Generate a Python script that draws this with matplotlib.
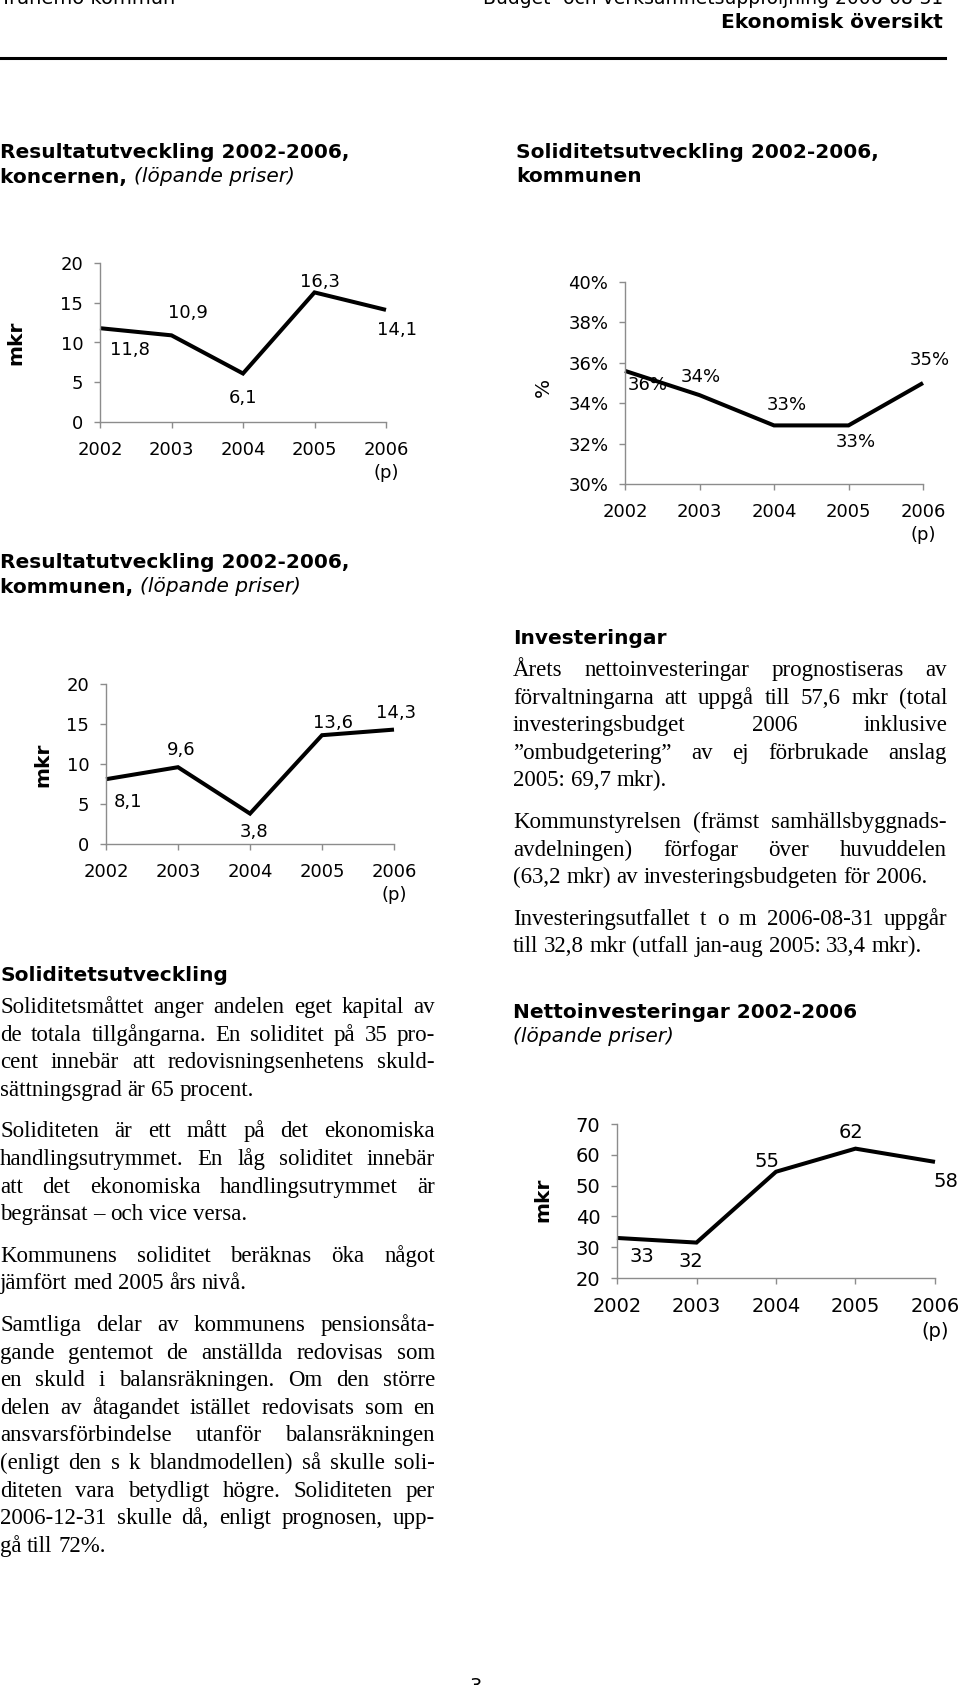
import numpy as np
import matplotlib.pyplot as plt

# data
years = ["2002", "2003", "2004", "2005", "2006\n(p)"]

koncern_mkr = [11.8, 10.9, 6.1, 16.3, 14.1]
koncern_labels = ["11,8", "10,9", "6,1", "16,3", "14,1"]

soliditet_pct = [35.6, 34.4, 32.9, 32.9, 35.0]
soliditet_labels = ["36%", "34%", "33%", "33%", "35%"]

kommun_mkr = [8.1, 9.6, 3.8, 13.6, 14.3]
kommun_labels = ["8,1", "9,6", "3,8", "13,6", "14,3"]

netto_mkr = [33, 31.5, 54.5, 62, 57.7]
netto_labels = ["33", "32", "55", "62", "58"]

mkr_ticks = [0, 5, 10, 15, 20]
pct_ticks = [30, 32, 34, 36, 38, 40]
netto_ticks = [20, 30, 40, 50, 60, 70]

# body text, line by line as on the page
soliditet_text = [
    ["Soliditetsmåttet anger andelen eget kapital av",
     "de totala tillgångarna. En soliditet på 35 pro-",
     "cent innebär att redovisningsenhetens skuld-",
     "sättningsgrad är 65 procent."],
    ["Soliditeten är ett mått på det ekonomiska",
     "handlingsutrymmet. En låg soliditet innebär",
     "att det ekonomiska handlingsutrymmet är",
     "begränsat – och vice versa."],
    ["Kommunens soliditet beräknas öka något",
     "jämfört med 2005 års nivå."],
    ["Samtliga delar av kommunens pensionsåta-",
     "gande gentemot de anställda redovisas som",
     "en skuld i balansräkningen. Om den större",
     "delen av åtagandet istället redovisats som en",
     "ansvarsförbindelse utanför balansräkningen",
     "(enligt den s k blandmodellen) så skulle soli-",
     "diteten vara betydligt högre. Soliditeten per",
     "2006-12-31 skulle då, enligt prognosen, upp-",
     "gå till 72%."],
]
invest_text = [
    ["Årets nettoinvesteringar prognostiseras av",
     "förvaltningarna att uppgå till 57,6 mkr (total",
     "investeringsbudget 2006 inklusive",
     "”ombudgetering” av ej förbrukade anslag",
     "2005: 69,7 mkr)."],
    ["Kommunstyrelsen (främst samhällsbyggnads-",
     "avdelningen) förfogar över huvuddelen",
     "(63,2 mkr) av investeringsbudgeten för 2006."],
    ["Investeringsutfallet t o m 2006-08-31 uppgår",
     "till 32,8 mkr (utfall jan-aug 2005: 33,4 mkr)."],
]

W, H = 960, 1685
SANS = "DejaVu Sans"
SERIF = "Liberation Serif"
BODY = 16.5
HEAD = 14.5

fig = plt.figure(figsize=(W / 100, H / 100), dpi=100)
renderer = fig.canvas.get_renderer()


def fx(x):
    return x / W


def fy(y):
    return 1 - y / H


def put(x, y, s, **kw):
    kw.setdefault("family", SANS)
    return fig.text(fx(x), fy(y), s, **kw)


def width(t):
    return t.get_window_extent(renderer).width


def two_part(x, y, bold, italic, size=HEAD):
    t = put(x, y, bold, fontsize=size, fontweight="bold", va="center")
    if italic:
        put(x + width(t), y, italic, fontsize=size, style="italic", va="center")


def paragraphs(paras, x0, x1, y0, step=27.6, gap=14):
    space = 0.25 * BODY * 100 / 72
    y = y0
    for para in paras:
        for i, line in enumerate(para):
            last = i == len(para) - 1
            words = line.split(" ")
            objs = [put(0, y, w, family=SERIF, fontsize=BODY, va="baseline") for w in words]
            ws = [width(o) for o in objs]
            sp = space
            if not last and len(words) > 1:
                sp = max((x1 - x0 - sum(ws)) / (len(words) - 1), 0.6 * space)
            x = x0
            for o, w in zip(objs, ws):
                o.set_x(fx(x))
                x += w + sp
            y += step
        y += gap


def line_chart(box, values, labels, offsets, ticks, ticklabels, fs):
    left, top, right, bottom = box
    ax = fig.add_axes([fx(left), fy(bottom), (right - left) / W, (bottom - top) / H])
    ax.patch.set_alpha(0)
    x = np.arange(len(years))
    ax.plot(x, values, color="black", lw=2.9, clip_on=False,
            solid_joinstyle="miter", solid_capstyle="butt")
    ax.set_xlim(0, len(years) - 1)
    ax.set_ylim(ticks[0], ticks[-1])
    ax.set_xticks(x)
    ax.set_xticklabels(years)
    ax.set_yticks(ticks)
    ax.set_yticklabels(ticklabels)
    for s in ["top", "right"]:
        ax.spines[s].set_visible(False)
    for s in ["left", "bottom"]:
        ax.spines[s].set_color("#8c8c8c")
        ax.spines[s].set_linewidth(1.0)
    ax.tick_params(direction="out", length=4, width=1.0, color="#8c8c8c",
                   labelsize=fs, labelcolor="black")
    ax.tick_params(axis="x", pad=10)
    ax.tick_params(axis="y", pad=8)
    for t in ax.get_xticklabels() + ax.get_yticklabels():
        t.set_family(SANS)
        t.set_linespacing(1.35)
    for xi, v, lab, (dx, dy) in zip(x, values, labels, offsets):
        ax.annotate(lab, (xi, v), xytext=(dx * 0.72, -dy * 0.72),
                    textcoords="offset points", ha="center", va="center",
                    fontsize=fs, family=SANS)
    return ax


# page header (cut at the top edge, as on the page)
put(0, 4, "Tranemo kommun", fontsize=14, va="baseline")
put(943, 4, "Budget- och verksamhetsuppföljning 2006-08-31", fontsize=13.5,
    va="baseline", ha="right")
put(943, 22, "Ekonomisk översikt", fontsize=HEAD, fontweight="bold", va="center", ha="right")
fig.add_artist(plt.Line2D([0, fx(945)], [fy(58), fy(58)], color="black", lw=2.2))

# chart titles
two_part(0, 152, "Resultatutveckling 2002-2006,", "")
two_part(0, 177, "koncernen, ", "(löpande priser)")
two_part(516, 152, "Soliditetsutveckling 2002-2006,", "")
two_part(516, 177, "kommunen", "")
two_part(0, 562, "Resultatutveckling 2002-2006,", "")
two_part(0, 587, "kommunen, ", "(löpande priser)")

# chart 1: result, group
line_chart((100, 263, 386, 422), koncern_mkr, koncern_labels,
           [(30, 22), (16, -22), (0, 24), (6, -10), (11, 20)],
           mkr_ticks, [str(t) for t in mkr_ticks], 13)
put(16, 343, "mkr", fontsize=HEAD, fontweight="bold", rotation=90, va="center", ha="center")

# chart 2: solidity
line_chart((625, 282, 923, 484), soliditet_pct, soliditet_labels,
           [(23, 14), (1, -18), (13, -20), (7, 17), (7, -23)],
           pct_ticks, [f"{t}%" for t in pct_ticks], 13)
put(543, 387, "%", fontsize=HEAD, rotation=90, va="center", ha="center")

# chart 3: result, municipality
line_chart((106, 684, 394, 844), kommun_mkr, kommun_labels,
           [(22, 23), (3, -17), (4, 18), (11, -12), (2, -17)],
           mkr_ticks, [str(t) for t in mkr_ticks], 13)
put(43, 765, "mkr", fontsize=HEAD, fontweight="bold", rotation=90, va="center", ha="center")

# investments text
put(513, 638, "Investeringar", fontsize=HEAD, fontweight="bold", va="center")
paragraphs(invest_text, 513, 947, 676)

# solidity text
put(0, 975, "Soliditetsutveckling", fontsize=HEAD, fontweight="bold", va="center")
paragraphs(soliditet_text, 0, 435, 1013)

# chart 4: net investments
two_part(513, 1012, "Nettoinvesteringar 2002-2006", "")
put(513, 1037, "(löpande priser)", fontsize=HEAD, style="italic", va="center")
line_chart((617, 1124, 935, 1278), netto_mkr, netto_labels,
           [(25, 19), (-6, 19), (-9, -10), (-4, -16), (11, 20)],
           netto_ticks, [str(t) for t in netto_ticks], 14)
put(543, 1200, "mkr", fontsize=HEAD, fontweight="bold", rotation=90, va="center", ha="center")

# page number, cut at the bottom edge
put(476, 1677, "3", fontsize=14, va="top", ha="center")

fig.savefig("out.png", dpi=100)
